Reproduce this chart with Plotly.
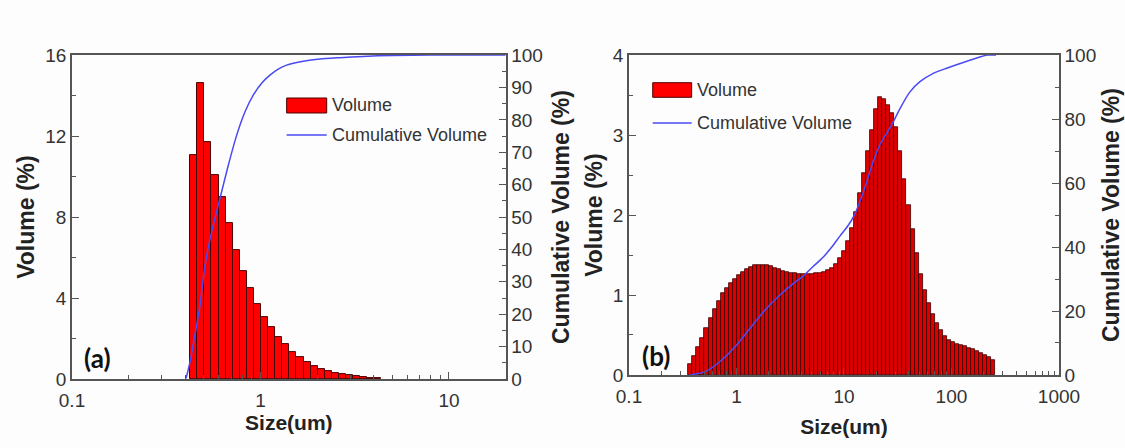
import numpy as np
import plotly.graph_objects as go

# ---------------- data ----------------
# (a) volume distribution: size-class centres (um) and volume (%)
size_a = [0.443, 0.482, 0.526, 0.574, 0.626, 0.682, 0.744, 0.811, 0.884, 0.964,
          1.051, 1.146, 1.250, 1.363, 1.486, 1.620, 1.767, 1.926, 2.100, 2.290,
          2.497, 2.723, 2.969, 3.237, 3.530, 3.849, 4.197]
vol_a = [11.06, 14.6, 11.7, 10.07, 8.97, 7.69, 6.37, 5.33, 4.47, 3.70,
         3.08, 2.55, 2.09, 1.71, 1.35, 1.10, 0.85, 0.66, 0.49, 0.40,
         0.31, 0.24, 0.18, 0.13, 0.09, 0.06, 0.04]
# (a) cumulative volume curve
cum_size_a = [0.403, 0.423, 0.449, 0.478, 0.508, 0.551, 0.610, 0.675, 0.748, 0.828,
              0.917, 1.014, 1.122, 1.242, 1.376, 1.687, 2.07, 2.64, 3.5, 5.0, 8.0, 20.0]
cum_a = [0.2, 5.3, 13.6, 22.8, 35.2, 45.5, 55.8, 66.0, 75.3, 82.5,
         87.7, 91.3, 93.8, 95.7, 96.9, 98.1, 98.8, 99.2, 99.6, 99.9, 100, 100]

# (b) volume distribution
size_b = [0.372, 0.406, 0.443, 0.482, 0.526, 0.574, 0.626, 0.682, 0.744, 0.811,
          0.884, 0.964, 1.051, 1.146, 1.250, 1.363, 1.486, 1.620, 1.767, 1.926,
          2.100, 2.290, 2.497, 2.723, 2.969, 3.237, 3.530, 3.849, 4.197, 4.576,
          4.990, 5.441, 5.933, 6.469, 7.054, 7.692, 8.387, 9.145, 9.972, 10.87,
          11.86, 12.93, 14.10, 15.37, 16.76, 18.28, 19.93, 21.73, 23.70, 25.84,
          28.18, 30.72, 33.50, 36.53, 39.83, 43.43, 47.36, 51.64, 56.31, 61.40,
          66.95, 73.00, 79.60, 86.80, 94.65, 103.2, 112.5, 122.7, 133.8, 145.9,
          159.1, 173.5, 189.2, 206.3, 224.9, 245.3]
vol_b = [0.13, 0.23, 0.35, 0.46, 0.58, 0.71, 0.83, 0.93, 1.02, 1.09,
         1.15, 1.20, 1.25, 1.29, 1.32, 1.35, 1.37, 1.38, 1.38, 1.37,
         1.36, 1.34, 1.32, 1.30, 1.29, 1.28, 1.27, 1.26, 1.26, 1.26,
         1.26, 1.27, 1.28, 1.29, 1.31, 1.34, 1.39, 1.46, 1.55, 1.68,
         1.84, 2.04, 2.28, 2.52, 2.80, 3.06, 3.32, 3.48, 3.45, 3.38,
         3.27, 3.10, 2.80, 2.45, 2.12, 1.82, 1.52, 1.26, 1.06, 0.90,
         0.76, 0.65, 0.56, 0.49, 0.44, 0.41, 0.39, 0.37, 0.36, 0.34,
         0.32, 0.30, 0.27, 0.25, 0.22, 0.19]
# (b) cumulative volume curve
cum_size_b = [0.369, 0.509, 0.703, 0.968, 1.336, 1.842, 2.54, 3.3, 4.2, 5.2,
              6.4, 7.7, 9.2, 10.8, 12.5, 15.2, 18.7, 21.6, 24.9, 28.8,
              33.2, 41.1, 50.9, 67.7, 90.2, 128.8, 184, 215, 260]
cum_b = [0, 1.0, 4.2, 8.8, 14.6, 20.3, 25.0, 28.3, 31.0, 34.0,
         36.8, 40.0, 43.5, 46.5, 50.0, 57.3, 66.7, 72.0, 75.5, 79.2,
         83.3, 88.5, 91.7, 94.3, 95.9, 97.7, 99.4, 100, 100]

xticks_a = [0.1, 1, 10]
xticks_b = [0.1, 1, 10, 100, 1000]

# ---------------- style ----------------
BIN_W = 0.0376            # width of a size class in log10 units
AXC = '#555555'
TICKFONT = dict(family='Liberation Sans', size=19, color='#333333')
TITLEFONT_V = dict(family='Liberation Sans', size=23, color='#222222', weight='bold')
TITLEFONT_H = dict(family='Liberation Sans', size=21, color='#222222', weight='bold')
BLUE = '#4a4af2'


def log_minor(lo, hi):
    vals = []
    for d in range(-2, 4):
        for k in range(2, 10):
            v = k * 10.0 ** d
            if lo < v < hi:
                vals.append(float(np.log10(v)))
    return vals


fig = go.Figure()
fig.add_trace(go.Bar(x=np.log10(size_a), y=vol_a, width=BIN_W, name='Volume',
                     marker=dict(color='#ff0000', line=dict(color='#4a0000', width=1)),
                     xaxis='x', yaxis='y', showlegend=False))
fig.add_trace(go.Scatter(x=np.log10(cum_size_a), y=cum_a, mode='lines', name='Cumulative Volume',
                         line=dict(color=BLUE, width=1.5, shape='spline', smoothing=0.6),
                         xaxis='x', yaxis='y2', showlegend=False))
fig.add_trace(go.Bar(x=np.log10(size_b), y=vol_b, width=BIN_W, name='Volume',
                     marker=dict(color='#dd0000', line=dict(color='#3a0000', width=0.8)),
                     xaxis='x2', yaxis='y3', showlegend=False))
fig.add_trace(go.Scatter(x=np.log10(cum_size_b), y=cum_b, mode='lines', name='Cumulative Volume',
                         line=dict(color=BLUE, width=1.5, shape='spline', smoothing=0.6),
                         xaxis='x2', yaxis='y4', showlegend=False))

base = dict(showline=True, linecolor=AXC, linewidth=1.5, ticks='inside', tickcolor=AXC,
            tickwidth=1.2, ticklen=7, showgrid=False, zeroline=False, tickfont=TICKFONT,
            automargin=False)

fig.update_layout(
    width=1125, height=448,
    margin=dict(l=0, r=0, t=0, b=0, pad=0),
    paper_bgcolor='#fdfdfd', plot_bgcolor='#fdfdfd',
    bargap=0,
    xaxis=dict(base, domain=[0.064, 0.4495], range=[-1, 1.301], anchor='y', mirror=True,
               tickvals=list(np.log10(xticks_a)), ticktext=[f'{v:g}' for v in xticks_a],
               ticklabelstandoff=3,
               minor=dict(tickvals=log_minor(0.1, 20), ticklen=4, ticks='inside', tickcolor=AXC),
               title=dict(text='Size(um)', font=TITLEFONT_H, standoff=6)),
    yaxis=dict(base, domain=[0.154, 0.877], range=[0, 16], anchor='x', tickvals=[0, 4, 8, 12, 16],
               minor=dict(dtick=2, ticklen=4, ticks='inside', tickcolor=AXC),
               title=dict(text='Volume (%)', font=TITLEFONT_V, standoff=4)),
    yaxis2=dict(base, overlaying='y', side='right', anchor='x', range=[0, 100], dtick=10,
                minor=dict(dtick=5, ticklen=4, ticks='inside', tickcolor=AXC),
                title=dict(text='Cumulative Volume (%)', font=TITLEFONT_V, standoff=11)),
    xaxis2=dict(base, domain=[0.5591, 0.9413], range=[-1, 3], anchor='y3', mirror=True,
                tickvals=list(np.log10(xticks_b)), ticktext=[f'{v:g}' for v in xticks_b],
                ticklabelstandoff=3,
                minor=dict(tickvals=log_minor(0.1, 1000), ticklen=4, ticks='inside', tickcolor=AXC),
                title=dict(text='Size(um)', font=TITLEFONT_H, standoff=14)),
    yaxis3=dict(base, domain=[0.163, 0.877], range=[0, 4], anchor='x2', dtick=1,
                minor=dict(dtick=0.5, ticklen=4, ticks='inside', tickcolor=AXC),
                title=dict(text='Volume (%)', font=TITLEFONT_V, standoff=4)),
    yaxis4=dict(base, overlaying='y3', side='right', anchor='x2', range=[0, 100], dtick=20,
                minor=dict(dtick=10, ticklen=4, ticks='inside', tickcolor=AXC),
                title=dict(text='Cumulative Volume (%)', font=TITLEFONT_V, standoff=8)),
)

# panel letters
LETTER = dict(family='Lato', size=26, color='#111111', weight='bold')
fig.add_annotation(x=0.0871, y=0.2009, xref='paper', yref='paper', text='(a)', showarrow=False,
                   xanchor='center', yanchor='middle', font=LETTER)
fig.add_annotation(x=0.5831, y=0.2054, xref='paper', yref='paper', text='(b)', showarrow=False,
                   xanchor='center', yanchor='middle', font=LETTER)

# legends (drawn in paper space)
LEGFONT = dict(family='Liberation Sans', size=18, color='#333333')


def add_legend(x0, x1, box_y0, box_y1, line_y, text_x, vol_y):
    fig.add_shape(type='rect', xref='paper', yref='paper', x0=x0, x1=x1, y0=box_y0, y1=box_y1,
                  fillcolor='#ff0000', line=dict(color='#4a0000', width=1))
    fig.add_shape(type='line', xref='paper', yref='paper', x0=x0, x1=x1, y0=line_y, y1=line_y,
                  line=dict(color=BLUE, width=1.5))
    fig.add_annotation(x=text_x, y=vol_y, xref='paper', yref='paper', text='Volume', showarrow=False,
                       xanchor='left', yanchor='middle', font=LEGFONT)
    fig.add_annotation(x=text_x, y=line_y, xref='paper', yref='paper', text='Cumulative Volume',
                       showarrow=False, xanchor='left', yanchor='middle', font=LEGFONT)


add_legend(0.2548, 0.2904, 0.7478, 0.78125, 0.6987, 0.2930, 0.7656)
add_legend(0.5802, 0.6148, 0.7828, 0.8154, 0.7254, 0.6175, 0.7991)

fig.write_html('out.html')
